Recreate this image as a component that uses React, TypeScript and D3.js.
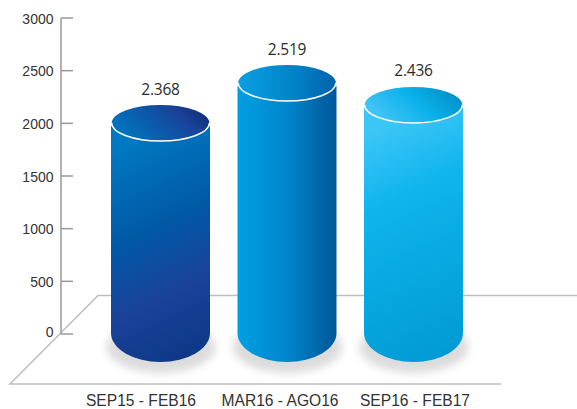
import React from "react";
import * as d3 from "d3";

const categories = ["SEP15 - FEB16", "MAR16 - AGO16", "SEP16 - FEB17"];
const values = [2368, 2519, 2436];
const valueLabels = ["2.368", "2.519", "2.436"];
const axisTicks = [0, 500, 1000, 1500, 2000, 2500, 3000];
const bodyStops = [
  [["0%", "#0078c2"], ["38%", "#0059a6"], ["68%", "#1a4299"], ["100%", "#0c3785"]],
  [["0%", "#009fe3"], ["50%", "#0086cb"], ["100%", "#00569a"]],
  [["0%", "#3cc6f6"], ["30%", "#0fb4ee"], ["100%", "#009ad3"]],
];
const capStops = [
  [["0%", "#0078c2"], ["55%", "#0f52a3"], ["75%", "#1a4299"], ["100%", "#0f2f78"]],
  [["0%", "#0aa0e2"], ["55%", "#0084c9"], ["100%", "#0062aa"]],
  [["0%", "#4ac7f4"], ["55%", "#0cb2ec"], ["100%", "#008fc6"]],
];

const W = 577, H = 409;
const yAxis = d3.scaleLinear().domain([0, 3000]).range([334, 18]);
// the drawn cylinders are not on the axis's scale in the original picture
const yTop = d3.scaleLinear().domain([2368, 2519]).range([123, 83]);
const x = d3.scalePoint<string>().domain(categories).range([160.5, 413.5]);
const labelShift = [-19.5, -7, 1.5];
const baseY = 333;
const rx = 49.5, capRy = 18, baseRy = 29;
const sans = "'Liberation Sans', Arial, sans-serif";

export default function App() {
  return (
    <svg width={W} height={H} viewBox={`0 0 ${W} ${H}`} style={{ position: "absolute", left: 0, top: 0, background: "#fff" }}>
      <defs>
        <filter id="blur" x="-30%" y="-60%" width="160%" height="220%">
          <feGaussianBlur stdDeviation="4.5" />
        </filter>
        {categories.map((c, i) => {
          const cx = x(c)!;
          const diagonal = i !== 1;
          return (
            <React.Fragment key={c}>
              <linearGradient id={`body${i}`} gradientUnits="userSpaceOnUse"
                x1={cx - rx} y1={diagonal ? yTop(values[i]) + 30 : 0}
                x2={cx + rx} y2={diagonal ? baseY + 20 : 0}>
                {bodyStops[i].map(([o, col]) => <stop key={o} offset={o} stopColor={col} />)}
              </linearGradient>
              <linearGradient id={`cap${i}`} x1="0" y1={diagonal ? "0.7" : "0.5"} x2="1" y2={diagonal ? "0.3" : "0.5"}>
                {capStops[i].map(([o, col]) => <stop key={o} offset={o} stopColor={col} />)}
              </linearGradient>
            </React.Fragment>
          );
        })}
      </defs>

      {/* floor */}
      <path d="M577 295.5H98L10 384H501" fill="none" stroke="#bdbdbd" strokeWidth={1.5} />

      {/* axis */}
      <line x1={61} x2={61} y1={yAxis(3000)} y2={yAxis(0)} stroke="#98999b" strokeWidth={1.5} />
      {axisTicks.map((t) => (
        <g key={t}>
          <line x1={61} x2={73} y1={yAxis(t)} y2={yAxis(t)} stroke="#98999b" strokeWidth={1.5} />
          <text x={53.5} y={yAxis(t) + (t === 0 ? 3 : 5.5)} textAnchor="end" fontFamily={sans} fontSize={14} fill="#333">{t}</text>
        </g>
      ))}

      {categories.map((c, i) => {
        const cx = x(c)!;
        const top = yTop(values[i]);
        return (
          <g key={c}>
            <ellipse cx={cx + 0.5} cy={baseY + 14} rx={rx + 5} ry={baseRy - 3} fill="#b0b0b0" opacity={0.45} filter="url(#blur)" />
            <path
              d={`M${cx - rx} ${top + 3}V${baseY}A${rx} ${baseRy} 0 0 0 ${cx + rx} ${baseY}V${top + 3}Z`}
              fill={`url(#body${i})`}
            />
            <ellipse cx={cx} cy={top} rx={rx - 0.7} ry={capRy} fill={`url(#cap${i})`} />
            <path
              d={`M${cx - rx + 0.7} ${top}A${rx - 0.7} ${capRy} 0 0 0 ${cx + rx - 0.7} ${top}`}
              fill="none" stroke="#fff" strokeWidth={1.4}
            />
            <text x={cx} y={top - 28.5} textAnchor="middle" fontFamily="'Open Sans', sans-serif" fontSize={15.5} letterSpacing={-0.2} fill="#2b2b2b">{valueLabels[i]}</text>
            <text x={cx + labelShift[i]} y={406} textAnchor="middle" fontFamily={sans} fontSize={15.6} fill="#333">{c}</text>
          </g>
        );
      })}
    </svg>
  );
}
